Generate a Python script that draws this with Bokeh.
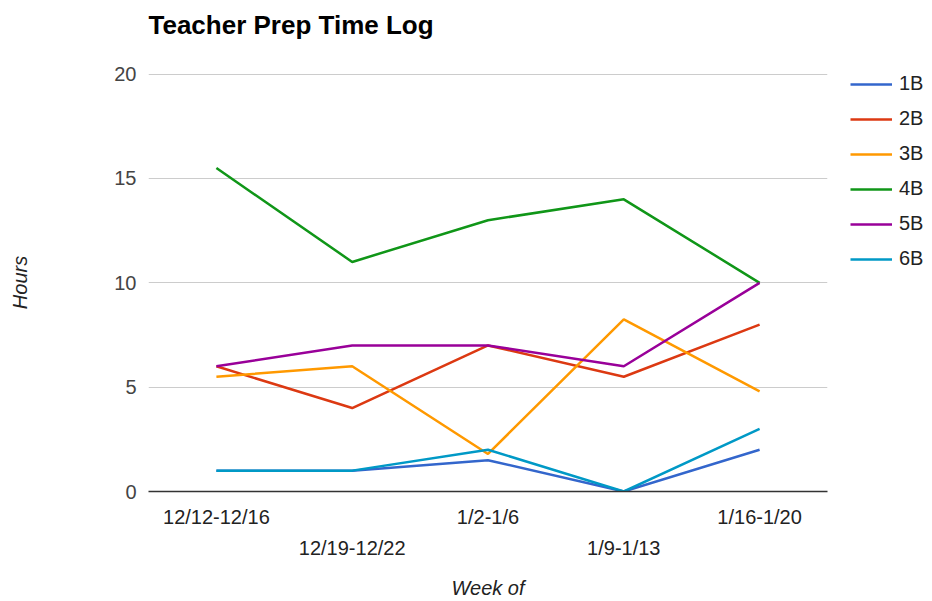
from bokeh.plotting import figure
from bokeh.models import Range1d, FixedTicker, LinearAxis, Legend, LegendItem, Grid, Title
from bokeh.embed import file_html
from bokeh.resources import INLINE

weeks = ["12/12-12/16", "12/19-12/22", "1/2-1/6", "1/9-1/13", "1/16-1/20"]
series_names = ["1B", "2B", "3B", "4B", "5B", "6B"]
s1B = [1, 1, 1.5, 0, 2]
s2B = [6, 4, 7, 5.5, 8]
s3B = [5.5, 6, 1.8, 8.25, 4.8]
s4B = [15.5, 11, 13, 14, 10]
s5B = [6, 7, 7, 6, 10]
s6B = [1, 1, 2, 0, 3]
colors = ["#3366cc", "#dc3912", "#ff9900", "#109618", "#990099", "#0099c6"]
y_ticks = [0, 5, 10, 15, 20]
chart_title = "Teacher Prep Time Log"

FONT = "Liberation Sans"

p = figure(title=None, frame_width=679, frame_height=418, output_backend="svg",
           toolbar_location=None,
           x_range=Range1d(-0.5, len(weeks) - 0.5), y_range=Range1d(0, 20.03),
           x_axis_location=None, y_axis_location=None,
           min_border_left=148, min_border_right=105, min_border_top=73,
           min_border_bottom=105)
p.outline_line_color = None
p.background_fill_color = "white"

# spacer between frame and title (closest to frame)
spacer = Title(text=" ", text_font=FONT, text_font_size="10px", standoff=19,
               text_color="white")
p.add_layout(spacer, "above")
t = Title(text=chart_title, text_font=FONT, text_font_size="26px",
          text_font_style="bold", text_color="#000000", align="left",
          vertical_align="top", standoff=0)
p.add_layout(t, "above")

xs = list(range(len(weeks)))
data = [s1B, s2B, s3B, s4B, s5B, s6B]
items = []
for name, vals, c in zip(series_names, data, colors):
    r = p.line(xs, vals, line_color=c, line_width=2.5)
    items.append(LegendItem(label=name, renderers=[r]))

# y axis
yax = LinearAxis(ticker=FixedTicker(ticks=y_ticks), axis_label="Hours")
yax.axis_line_color = None
yax.major_tick_line_color = None
yax.minor_tick_line_color = None
yax.major_label_text_font = FONT
yax.major_label_text_font_size = "20px"
yax.major_label_text_color = "#444444"
yax.major_label_standoff = 6
yax.axis_label_text_font = FONT
yax.axis_label_text_font_size = "20px"
yax.axis_label_text_font_style = "italic"
yax.axis_label_text_color = "#222222"
yax.axis_label_standoff = 80
p.add_layout(yax, "left")

# x axes, staggered labels
xax1 = LinearAxis(ticker=FixedTicker(ticks=xs[0::2]),
                  major_label_overrides={i: weeks[i] for i in xs})
xax1.axis_line_color = "#333333"
xax1.axis_line_width = 1.5
xax1.major_tick_line_color = None
xax1.minor_tick_line_color = None
xax1.major_label_text_font = FONT
xax1.major_label_text_font_size = "20px"
xax1.major_label_text_color = "#222222"
xax1.major_label_standoff = 8
p.add_layout(xax1, "below")

xax2 = LinearAxis(ticker=FixedTicker(ticks=xs[1::2]),
                  major_label_overrides={i: weeks[i] for i in xs},
                  axis_label="Week of")
xax2.axis_line_color = None
xax2.major_tick_line_color = None
xax2.minor_tick_line_color = None
xax2.major_label_text_font = FONT
xax2.major_label_text_font_size = "20px"
xax2.major_label_text_color = "#222222"
xax2.major_label_standoff = 0
xax2.axis_label_text_font = FONT
xax2.axis_label_text_font_size = "20px"
xax2.axis_label_text_font_style = "italic"
xax2.axis_label_text_color = "#222222"
xax2.axis_label_standoff = 15
p.add_layout(xax2, "below")

p.xgrid.visible = False
p.ygrid.visible = False
g = Grid(dimension=1, ticker=FixedTicker(ticks=y_ticks))
g.grid_line_color = "#cccccc"
g.grid_line_width = 1
p.add_layout(g)

legend = Legend(items=items, location=(23, 221))
legend.border_line_color = None
legend.background_fill_alpha = 0
legend.label_text_font = FONT
legend.label_text_font_size = "20px"
legend.label_text_color = "#222222"
legend.glyph_width = 42
legend.glyph_height = 20
legend.label_height = 20
legend.label_standoff = 7
legend.spacing = 12
legend.padding = 0
legend.margin = 0
p.add_layout(legend, "right")

open("out.html", "w").write(file_html(p, INLINE))
